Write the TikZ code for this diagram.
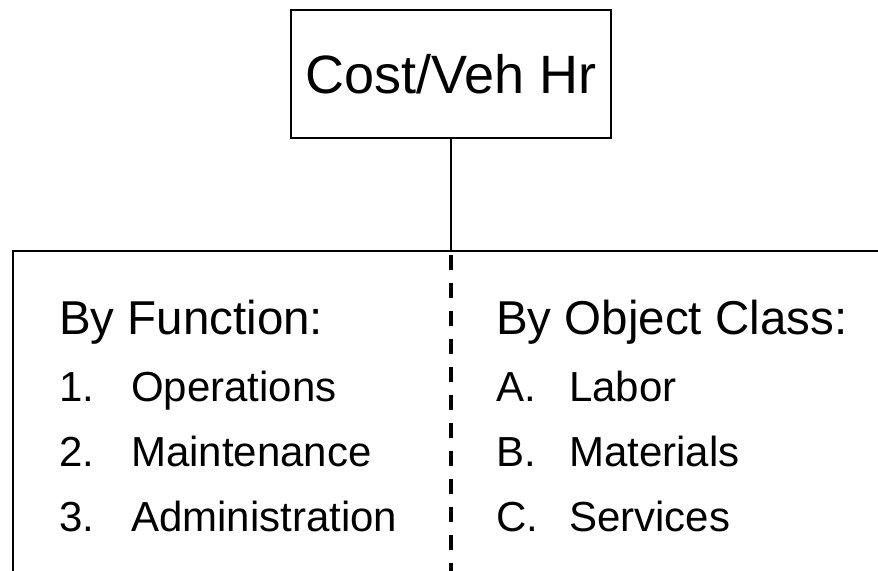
\documentclass[tikz,border=0pt]{standalone}
\usepackage{fontspec}
\setmainfont{Liberation Sans}
\usetikzlibrary{positioning}

\begin{document}
\begin{tikzpicture}[
  x=1bp, y=1bp,
  box/.style     = {draw, line width=1.8bp, inner sep=0pt},
  head/.style    = {inner sep=0pt, font=\fontsize{47.5bp}{56bp}\selectfont},
  item/.style    = {inner sep=0pt, font=\fontsize{42bp}{50bp}\selectfont},
  link/.style    = {line width=1.8bp},
  divider/.style = {line width=3.5bp, dash pattern=on 15bp off 13bp, dash phase=23bp},
]
\useasboundingbox (0,0) rectangle (878,571);

\node[box, minimum width=320bp, minimum height=128bp,
      font=\fontsize{54bp}{64bp}\selectfont] (costveh) at (451,497) {Cost/Veh Hr};
% lower box is open to the right and bottom (runs off the page)
\node[box, anchor=north west, minimum width=1000bp, minimum height=400bp] (split) at (12,321) {};

% left column
\node[head, anchor=base west] (byfunc) at (59,236) {By Function:};
\node[item, below=67bp of byfunc.base west, anchor=base west] (ops) {\makebox[72bp][l]{1.}Operations};
\node[item, below=65bp of ops.base west, anchor=base west] (maint) {\makebox[72bp][l]{2.}Maintenance};
\node[item, below=65bp of maint.base west, anchor=base west] (admin) {\makebox[72bp][l]{3.}Administration};

% right column
\node[head, anchor=base west] (byobj) at (496,236) {By Object Class:};
\node[item, below=67bp of byobj.base west, anchor=base west] (labor) {\makebox[73bp][l]{A.}Labor};
\node[item, below=65bp of labor.base west, anchor=base west] (mater) {\makebox[73bp][l]{B.}Materials};
\node[item, below=65bp of mater.base west, anchor=base west] (serv) {\makebox[73bp][l]{C.}Services};

\draw[link] (costveh.south) -- (costveh.south |- split.north);
\draw[divider] (costveh.south |- split.north) -- (costveh.south |- split.south);

\end{tikzpicture}
\end{document}
